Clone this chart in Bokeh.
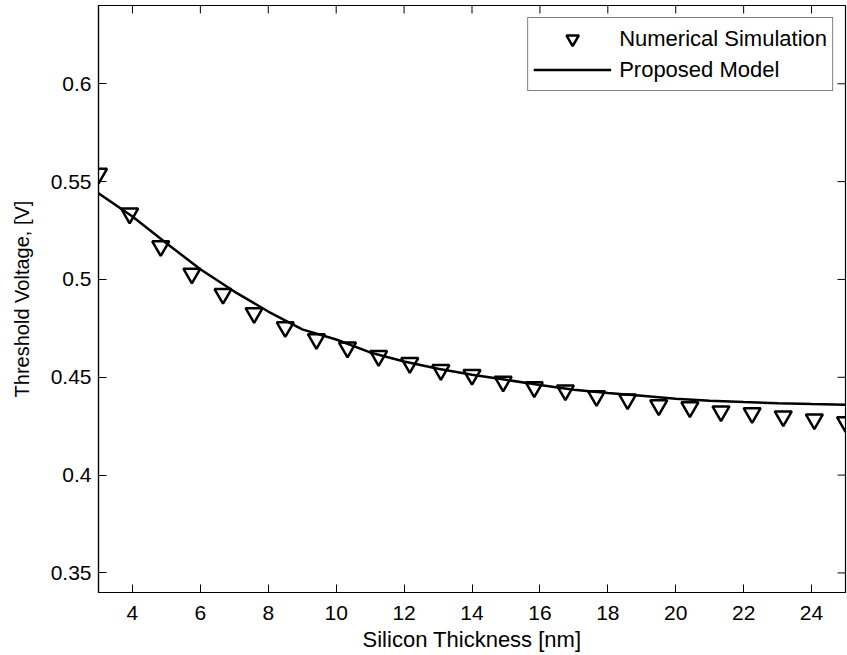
import math
from bokeh.plotting import figure
from bokeh.models import LinearAxis, Range1d, Legend, LegendItem, FixedTicker
from bokeh.embed import file_html
from bokeh.resources import INLINE

# ---- data ----
x_sim = [3.0, 3.917, 4.833, 5.75, 6.667, 7.583, 8.5, 9.417, 10.333, 11.25, 12.167, 13.083,
         14.0, 14.917, 15.833, 16.75, 17.667, 18.583, 19.5, 20.417, 21.333, 22.25, 23.167, 24.083, 25.0]
y_sim = [0.554, 0.5337, 0.517, 0.503, 0.4926, 0.4828, 0.4756, 0.4695, 0.4652, 0.4609, 0.4573, 0.4537,
         0.4512, 0.4478, 0.4449, 0.4433, 0.4404, 0.4387, 0.4357, 0.4347, 0.4326, 0.4317, 0.4300, 0.4285, 0.4271]

x_model = [3, 4, 5, 6, 7, 8, 9, 10, 11, 12, 13, 14, 15, 16, 17, 18, 19, 20, 21, 22, 23, 24, 25]
y_model = [0.544, 0.5322, 0.5185, 0.5052, 0.4938, 0.4836, 0.4745, 0.4693, 0.4627, 0.4581, 0.4544, 0.4513,
           0.4487, 0.4460, 0.4436, 0.4420, 0.4405, 0.4390, 0.4380, 0.4373, 0.4367, 0.4363, 0.4360]

x_ticks = [4, 6, 8, 10, 12, 14, 16, 18, 20, 22, 24]
y_ticks = [0.35, 0.4, 0.45, 0.5, 0.55, 0.6]
y_tick_labels = ["0.35", "0.4", "0.45", "0.5", "0.55", "0.6"]

series_names = ["Numerical Simulation", "Proposed Model"]
x_title = "Silicon Thickness [nm]"
y_title = "Threshold Voltage, [V]"

FONT = "Liberation Sans"
TICK_FS = "21px"

X0, X1 = 3, 25
Y0, Y1 = 0.34, 0.64

p = figure(width=847, height=655, x_range=Range1d(X0, X1), y_range=Range1d(Y0, Y1),
           output_backend="svg", toolbar_location=None,
           min_border_left=98, min_border_right=2, min_border_top=5, min_border_bottom=63,
           x_axis_location=None, y_axis_location=None)
p.xgrid.visible = False
p.ygrid.visible = False
p.outline_line_color = "black"
p.outline_line_width = 1.2
p.background_fill_color = "white"
p.border_fill_color = "white"


def style_axis(ax, ticks):
    ax.ticker = FixedTicker(ticks=ticks)
    ax.major_tick_in = 8
    ax.major_tick_out = 0
    ax.minor_tick_line_color = None
    ax.major_tick_line_color = "black"
    ax.major_tick_line_width = 1
    ax.axis_line_color = "black"
    ax.axis_line_width = 1.2
    ax.major_label_text_font = FONT
    ax.major_label_text_color = "black"
    ax.major_label_text_font_size = TICK_FS
    ax.axis_label_text_font = FONT
    ax.axis_label_text_font_style = "normal"
    ax.axis_label_text_color = "black"


xb = LinearAxis(axis_label=x_title)
style_axis(xb, x_ticks)
xb.major_label_standoff = 13
xb.axis_label_standoff = 4
xb.axis_label_text_font_size = "22px"
p.add_layout(xb, "below")

yl = LinearAxis(axis_label=y_title)
style_axis(yl, y_ticks)
yl.major_label_standoff = 7
yl.axis_label_standoff = 15
yl.axis_label_text_font_size = "20px"
yl.major_label_overrides = {t: s for t, s in zip(y_ticks, y_tick_labels)}
p.add_layout(yl, "left")

# inward ticks on the top and right edges of the box (MATLAB style)
p.ray(x=x_ticks, y=[Y1] * len(x_ticks), length=8, length_units="screen",
      angle=-math.pi / 2, line_color="black", line_width=1)
p.ray(x=[X1] * len(y_ticks), y=y_ticks, length=8, length_units="screen",
      angle=math.pi, line_color="black", line_width=1)

r_model = p.line(x_model, y_model, line_color="black", line_width=2.5)
r_sim = p.scatter(x_sim, y_sim, marker="inverted_triangle", size=17,
                  fill_color=None, line_color="black", line_width=2.5)

legend = Legend(items=[LegendItem(label=series_names[0], renderers=[r_sim]),
                       LegendItem(label=series_names[1], renderers=[r_model])],
                location="top_right")
legend.margin = 12
legend.padding = 5
legend.spacing = 0
legend.glyph_width = 78
legend.glyph_height = 31
legend.label_height = 31
legend.label_standoff = 8
legend.label_text_font = FONT
legend.label_text_font_size = "22px"
legend.label_text_color = "black"
legend.border_line_color = "black"
legend.border_line_width = 1
legend.background_fill_color = "white"
legend.background_fill_alpha = 1.0
p.add_layout(legend)

open("out.html", "w").write(file_html(p, INLINE))
